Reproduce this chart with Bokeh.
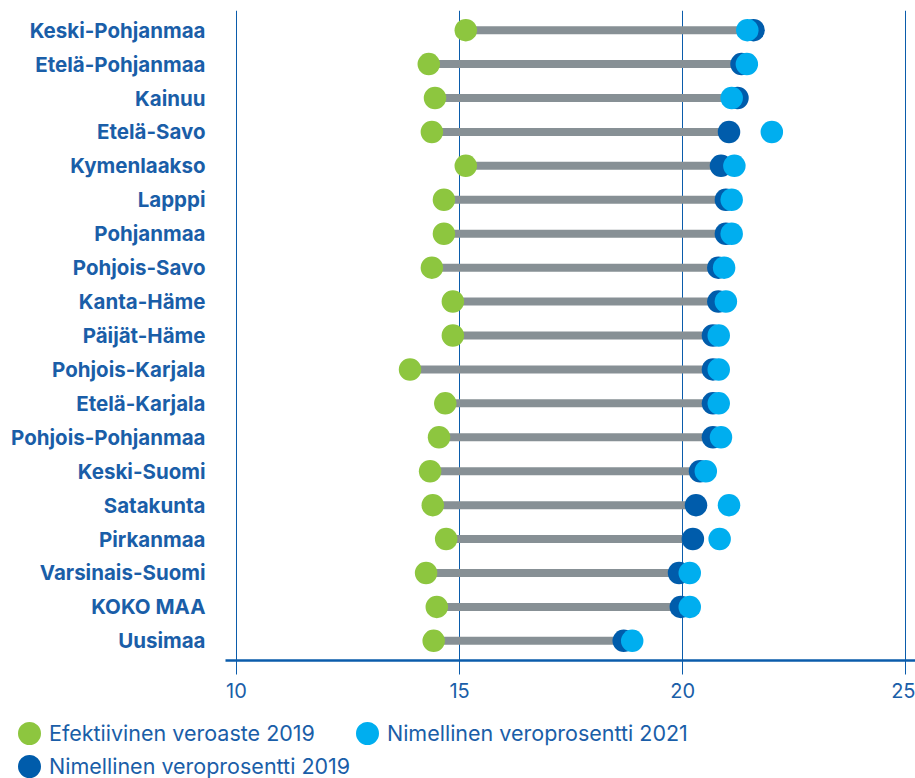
from bokeh.plotting import figure
from bokeh.layouts import column
from bokeh.models import FactorRange, Range1d, FixedTicker, Legend, LegendItem, ColumnDataSource
from bokeh.embed import file_html
from bokeh.resources import INLINE

regions = ["Keski-Pohjanmaa", "Etelä-Pohjanmaa", "Kainuu", "Etelä-Savo", "Kymenlaakso",
           "Lapppi", "Pohjanmaa", "Pohjois-Savo", "Kanta-Häme", "Päijät-Häme",
           "Pohjois-Karjala", "Etelä-Karjala", "Pohjois-Pohjanmaa", "Keski-Suomi",
           "Satakunta", "Pirkanmaa", "Varsinais-Suomi", "KOKO MAA", "Uusimaa"]
efektiivinen_2019 = [15.14, 14.31, 14.45, 14.38, 15.14, 14.65, 14.65, 14.38, 14.85, 14.85,
                     13.89, 14.68, 14.54, 14.34, 14.40, 14.70, 14.25, 14.49, 14.42]
nimellinen_2019 = [21.59, 21.32, 21.23, 21.04, 20.86, 20.97, 20.97, 20.80, 20.80, 20.68,
                   20.68, 20.68, 20.68, 20.39, 20.30, 20.23, 19.92, 19.96, 18.68]
nimellinen_2021 = [21.45, 21.44, 21.10, 22.00, 21.16, 21.10, 21.10, 20.93, 20.97, 20.81,
                   20.81, 20.81, 20.86, 20.52, 21.04, 20.83, 20.16, 20.16, 18.87]
x_ticks = [10, 15, 20, 25]
legend_labels = ["Efektiivinen veroaste 2019", "Nimellinen veroprosentti 2021",
                 "Nimellinen veroprosentti 2019"]

GREEN = "#8dc63f"
LIGHT = "#00aeef"
DARK = "#005cab"
GRAY = "#879095"
TEXT = "#1a5ea8"
AXIS = "#0b5cab"

src = ColumnDataSource(dict(region=regions, eff=efektiivinen_2019,
                            n19=nimellinen_2019, n21=nimellinen_2021))

p = figure(width=915, height=710, output_backend="svg", toolbar_location=None,
           y_range=FactorRange(factors=list(reversed(regions)), range_padding=0.0084),
           x_range=Range1d(9.754, 25.22),
           min_border_left=225, min_border_right=0, min_border_top=10, min_border_bottom=50)
p.outline_line_color = None
p.background_fill_color = "white"

p.segment(x0="eff", y0="region", x1="n19", y1="region", source=src,
          line_width=8, line_color=GRAY, line_cap="butt")
r_eff = p.scatter("eff", "region", source=src, size=22.5, fill_color=GREEN, line_color=None)
r_n19 = p.scatter("n19", "region", source=src, size=22.5, fill_color=DARK, line_color=None)
r_n21 = p.scatter("n21", "region", source=src, size=22.5, fill_color=LIGHT, line_color=None)

# x axis
p.xaxis.ticker = FixedTicker(ticks=x_ticks)
p.xaxis.axis_line_color = AXIS
p.xaxis.axis_line_width = 2.5
p.xaxis.major_tick_line_color = AXIS
p.xaxis.major_tick_line_width = 1
p.xaxis.major_tick_in = 0
p.xaxis.major_tick_out = 14
p.xaxis.minor_tick_line_color = None
p.xaxis.major_label_text_font = "Inter"
p.xaxis.major_label_text_font_size = "20px"
p.xaxis.major_label_text_color = TEXT
p.xaxis.major_label_standoff = 8

p.xgrid.ticker = FixedTicker(ticks=x_ticks)
p.xgrid.grid_line_color = AXIS
p.xgrid.grid_line_width = 1
p.ygrid.grid_line_color = None

# y axis
p.yaxis.axis_line_color = None
p.yaxis.major_tick_line_color = None
p.yaxis.minor_tick_line_color = None
p.yaxis.major_label_text_font = "Inter"
p.yaxis.major_label_text_font_style = "bold"
p.yaxis.major_label_text_font_size = "20.5px"
p.yaxis.major_label_text_color = TEXT
p.yaxis.major_label_standoff = 14

# legend strip below (its glyph renderers fall outside its own view range)
lp = figure(width=915, height=68, output_backend="svg", toolbar_location=None,
            x_range=Range1d(0, 1), y_range=Range1d(0, 1),
            min_border_left=0, min_border_right=0, min_border_top=0, min_border_bottom=0)
if "frame_align" in lp.properties():
    lp.frame_align = False
    p.frame_align = False
lp.axis.visible = False
lp.grid.visible = False
lp.outline_line_color = None
l_eff = lp.scatter("eff", "eff", source=src, size=12, fill_color=GREEN,
                   line_color=GREEN, line_width=11)
l_n21 = lp.scatter("n21", "n21", source=src, size=12, fill_color=LIGHT,
                   line_color=LIGHT, line_width=11)
l_n19 = lp.scatter("n19", "n19", source=src, size=12, fill_color=DARK,
                   line_color=DARK, line_width=11)


def style_legend(lg):
    lg.glyph_height = 30
    lg.glyph_width = 30
    lg.label_height = 22
    lg.label_text_font = "Inter"
    lg.label_text_font_size = "21.5px"
    lg.label_text_color = TEXT
    lg.label_standoff = 5
    lg.padding = 0
    lg.margin = 0
    lg.border_line_color = None
    lg.background_fill_alpha = 0


legend1 = Legend(items=[LegendItem(label=legend_labels[0], renderers=[l_eff]),
                        LegendItem(label=legend_labels[1], renderers=[l_n21])],
                 orientation="horizontal", location=(14, 30))
style_legend(legend1)
legend1.spacing = 37
legend2 = Legend(items=[LegendItem(label=legend_labels[2], renderers=[l_n19])],
                 location=(14, -3))
style_legend(legend2)
lp.add_layout(legend1)
lp.add_layout(legend2)

layout = column(p, lp, spacing=0)
open("out.html", "w").write(file_html(layout, INLINE))
